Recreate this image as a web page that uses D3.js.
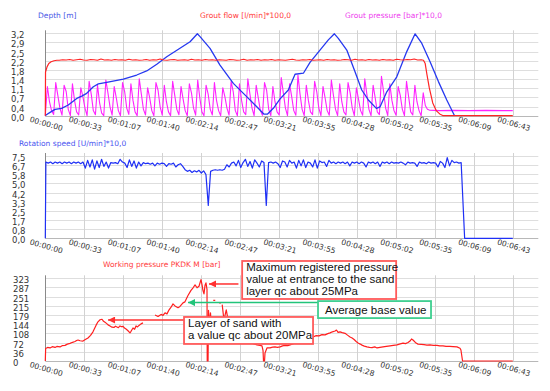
<!DOCTYPE html>
<html>
<head>
<meta charset="utf-8">
<script src="https://cdn.jsdelivr.net/npm/d3@7"></script>
<style>
  body { margin: 0; background: #fff; }
  svg { display: block; }
  .tick-label { font-family: "DejaVu Sans", Verdana, sans-serif; fill: #333; }
  .title { font-family: "DejaVu Sans", Verdana, sans-serif; font-size: 7.5px; }
  .note { font-family: "Liberation Sans", Arial, sans-serif; font-size: 11.5px; fill: #111; }
</style>
</head>
<body>
<svg id="chart" width="550" height="391"></svg>
<script>
// shared time axis, seconds from start of the column
const timeTicks = [0, 33.6, 67.2, 100.8, 134.3, 167.9, 201.5, 235.1, 268.7, 302.3, 335.8, 369.4, 403];
const timeLabels = ['00:00:00', '00:00:33', '00:01:07', '00:01:40', '00:02:14', '00:02:47', '00:03:21',
  '00:03:55', '00:04:28', '00:05:02', '00:05:35', '00:06:09', '00:06:43'];

const depthTicks = [0, 0.36, 0.72, 1.08, 1.44, 1.8, 2.16, 2.52, 2.88, 3.24];
const depthLabels = ['0,0', '0,4', '0,7', '1,1', '1,4', '1,8', '2,2', '2,5', '2,9', '3,2'];
const rotationTicks = [0, 0.833, 1.667, 2.5, 3.333, 4.167, 5, 5.833, 6.667, 7.5];
const rotationLabels = ['0,0', '0,8', '1,7', '2,5', '3,3', '4,2', '5,0', '5,8', '6,7', '7,5'];
const pressureTicks = [0, 35.9, 71.8, 107.7, 143.6, 179.4, 215.3, 251.2, 287.1, 323];
const pressureLabels = ['0', '36', '72', '108', '144', '179', '215', '251', '287', '323'];

// depth [m]
const depthTime = [0, 0.6, 4.1, 8.4, 14.1, 19.8, 27.1, 31.4, 35.7, 41.4, 45.7, 52.9, 67.3, 78.8, 87.4,
  96.1, 104.7, 116.1, 124.8, 131.1, 133.4, 142, 150.6, 162.1, 173.6, 182.3, 188.6, 191.4, 196.6,
  202.4, 209.5, 215.3, 222.5, 228.2, 236.8, 244, 249.2, 252.6, 259.9, 267, 272.8, 278.5, 285.4,
  288.6, 294.4, 303, 311.6, 318.8, 324.5, 331.7, 338.9, 346.1, 352.6];
const depthValue = [0, 0.03, 0.13, 0.25, 0.29, 0.42, 0.68, 0.77, 0.88, 1.14, 1.25, 1.31, 1.44, 1.6, 1.76,
  2.02, 2.32, 2.65, 2.91, 3.22, 3.11, 2.65, 1.99, 1.27, 0.75, 0.35, 0.06, 0.06, 0.29,
  0.66, 1.01, 1.63, 1.67, 2.1, 2.58, 2.98, 3.22, 3.04, 2.58, 1.73, 1.01, 0.62, 0.29,
  0.35, 0.94, 1.53, 2.52, 3.22, 2.85, 2.12, 1.34, 0.62, 0.02];

// grout flow [l/min]*100
const flowHeadTime = [0, 0.2, 1.5, 3, 5, 7.5, 10];
const flowHeadValue = [0, 1.72, 1.92, 2.05, 2.12, 2.16, 2.18];
const flowStart = 12;
const flowStep = 3;
const flowSamples = [
  2.18, 2.20, 2.19, 2.21, 2.18, 2.20, 2.22, 2.19, 2.18, 2.21, 2.20, 2.18, 2.23, 2.19, 2.20,
  2.18, 2.21, 2.19, 2.20, 2.18, 2.22, 2.19, 2.20, 2.18, 2.19, 2.21, 2.18, 2.20, 2.19, 2.23,
  2.19, 2.18, 2.20, 2.21, 2.18, 2.19, 2.20, 2.18, 2.22, 2.19, 2.20, 2.18, 2.21, 2.19, 2.20,
  2.18, 2.20, 2.19, 2.18, 2.21, 2.20, 2.18, 2.19, 2.22, 2.18, 2.20, 2.19, 2.21, 2.18, 2.20,
  2.19, 2.21, 2.18, 2.20, 2.19, 2.18, 2.20, 2.22, 2.19, 2.18, 2.20, 2.19, 2.21, 2.18, 2.19,
  2.20, 2.18, 2.21, 2.19, 2.20, 2.18, 2.19, 2.21, 2.20, 2.18, 2.22, 2.19, 2.20, 2.18, 2.21,
  2.19, 2.20, 2.18, 2.21, 2.19, 2.20, 2.18, 2.22, 2.20, 2.19, 2.21, 2.20, 2.23, 2.19, 2.20];
const flowTailTime = [326, 327.5, 329, 331, 334, 337, 340, 343, 403];
const flowTailValue = [2.18, 2.05, 1.62, 1.1, 0.5, 0.2, 0.07, 0, 0];

// grout pressure [bar]*10, logged every 1.8 s
const groutStep = 1.8;
const groutSamples = [
  0.00, 1.15, 0.55, 0.20, 0.05, 1.30, 0.80, 0.30, 0.02, 1.20, 0.95, 0.25, 0.00, 1.25, 0.60, 0.15,
  0.03, 1.10, 0.75, 0.30, 0.00, 1.35, 0.85, 0.20, 0.04, 1.20, 0.50, 0.10, 0.00, 1.40, 0.90, 0.35,
  0.02, 1.15, 0.70, 0.20, 0.00, 1.30, 0.95, 0.30, 0.05, 1.25, 0.60, 0.15, 0.00, 1.45, 0.85, 0.25,
  0.03, 1.10, 0.70, 0.20, 0.00, 1.30, 1.00, 0.35, 0.02, 1.20, 0.55, 0.15, 0.00, 1.35, 0.80, 0.25,
  0.04, 1.15, 0.65, 0.20, 0.00, 1.25, 0.90, 0.30, 0.02, 1.40, 0.70, 0.15, 0.00, 1.20, 0.85, 0.25,
  0.03, 1.30, 0.60, 0.20, 0.00, 1.10, 0.75, 0.30, 0.02, 1.35, 0.95, 0.20, 0.00, 1.25, 0.60, 0.15,
  0.04, 1.45, 0.85, 0.30, 0.00, 1.20, 0.70, 0.20, 0.02, 1.30, 1.00, 0.25, 0.00, 1.15, 0.55, 0.15,
  0.03, 1.50, 0.90, 0.30, 0.00, 1.25, 0.75, 0.20, 0.02, 1.60, 0.85, 0.25, 0.00, 1.20, 0.60, 0.15,
  0.04, 1.35, 0.95, 0.30, 0.00, 1.15, 0.70, 0.20, 0.02, 1.40, 0.80, 0.25, 0.00, 1.25, 0.55, 0.15,
  0.03, 1.30, 0.90, 0.30, 0.00, 1.10, 0.65, 0.20, 0.02, 1.45, 0.85, 0.25, 0.00, 1.20, 0.70, 0.15,
  0.04, 1.55, 0.95, 0.30, 0.00, 1.25, 0.60, 0.20, 0.02, 1.15, 0.80, 0.25, 0.00, 1.35, 0.75, 0.15,
  0.03, 1.20, 0.55, 0.20, 0.00, 0.90, 0.40, 0.25];
const groutTailTime = [331, 340, 352, 365, 380, 395, 403];
const groutTailValue = [0.22, 0.2, 0.21, 0.2, 0.21, 0.2, 0.2];

// rotation speed [U/min]*10, logged every 2 s from 0.5 s
const rotationStart = 0.5;
const rotationStep = 2;
const rotationSamples = [
  6.95, 6.85, 6.95, 6.80, 6.95, 6.85, 6.95, 6.80, 6.95, 6.85, 6.95, 6.80, 6.95, 6.85, 6.95, 6.80, 6.95,
  6.40, 7.10, 6.50, 7.15, 6.30, 7.05, 6.45, 7.20, 6.55, 6.95, 6.40,
  6.90, 6.85, 6.90, 6.80, 7.20, 6.95, 6.85,
  6.45, 7.15, 6.55, 7.05, 6.40, 6.95, 6.60,
  6.90, 6.80, 6.85, 6.75, 6.85, 6.60, 6.85, 6.75, 6.85, 6.80, 6.55, 6.80, 6.75, 6.85, 6.50, 6.70, 6.80, 6.55,
  6.25, 6.10, 6.20, 6.00, 6.15, 6.05, 6.20, 5.95, 6.15,
  5.80, 3.00,
  6.10, 6.20, 6.25, 6.20, 6.25, 6.20, 6.30,
  6.70, 6.50, 6.85, 6.95, 6.60, 7.10, 6.45, 6.90, 7.20, 6.55, 7.00, 6.40, 7.15, 6.85, 6.50, 7.05, 6.90,
  3.00,
  6.90, 6.95, 6.85, 6.95, 6.80, 6.45, 7.05, 6.95, 6.50, 7.10, 6.85, 6.95, 6.40, 7.10, 6.60, 7.15, 6.45, 6.95,
  6.85, 6.50, 7.15, 6.40, 7.05, 6.90, 6.95, 6.55, 7.10, 6.85, 6.95, 6.80, 6.95, 6.85, 6.95, 6.80, 6.95, 6.60,
  6.95, 6.85, 6.95, 6.80, 6.95, 6.85, 6.50, 6.95, 6.85, 6.95, 6.80, 6.95, 6.55, 6.95, 6.85, 6.95, 6.80, 6.95, 6.85,
  6.90, 6.85, 6.95, 6.85, 6.70, 6.95, 6.85, 6.90, 6.85, 6.55, 6.95, 6.85, 6.90, 6.80, 6.95, 6.85, 6.90, 6.85,
  6.50, 7.00, 6.85, 6.45, 7.35, 6.60, 7.10, 6.90, 6.95, 6.85,
  6.90];
const rotationTailTime = [361.5, 403];
const rotationTailValue = [0, 0];

// working pressure PKDK M [bar]; null marks a gap in the record
const pressureTime = [
  0, 0.3, 2, 4.1, 6, 8.4, 10, 12.7, 14.5, 17, 19, 21.3, 23.5, 25.6, 27, 28.2, 30, 32.5, 34.5, 36.8,
  39, 41.1, 43.7, 45.4, 47.2, 48.9, 50.2, 51.5, 53, 54.1, 55.8, 57.5, 59.2, 60.5, 61.8, 63, 64.4, 65.7,
  67, 68.3, 69.6, 71.3, 73, 73.9, 75.6, 77, 78.2, 79.5, 80.8, 82.5, 84.2,
  88, 94.6, 97.2, 99.8, 101.5, 103.2, 104.9, 106.7, 108.4, 110.1, 111.8, 114.4, 116.1, 118.7, 120.4,
  123, 125.6, 127.4, 129.1, 130.8, 132.5, 134.2, 135.1, 135.9, 136.8, 137.7, 138.5, 139.4, 139.6,
  140.3, 140.7, 141.6, 142.4, 143.3, 144.2, 144.5, 144.8, 146.5, 147, 149.8, 151.5, 152,
  152.5, 154, 156, 158, 162, 170, 178, 182.5, 185.1, 186.8, 187.7, 188.1, 189, 189.4, 191.1,
  193.7, 196, 198, 200, 202.4, 204.5, 206.7, 209, 211, 214, 217, 219.5, 222.2, 224.5, 226.5, 228.5,
  230.8, 233.5, 236, 238.5, 241.2, 243.5, 245.5, 247.5, 249.8, 251, 252.4, 254.1, 256, 258.4, 260.5,
  262.7, 264.5, 266.2, 268, 269.6, 271.5, 273, 275, 277.3, 279.5, 281.6, 284, 286, 288.5, 291.1, 294,
  297.2, 300, 303.2, 306, 308.4, 310.5, 312.7, 314.4, 315.7, 317, 319.6, 321.3, 324, 326.5, 329,
  331.6, 334.5, 337.7, 340, 342.8, 345.5, 348.8, 351.5, 354.9, 357.5, 358.3, 359.7, 403];
const pressureValue = [
  0, 49, 53, 51, 56, 53, 57, 55, 60, 61, 66, 69, 73, 76, 80, 82, 79, 78, 84, 90,
  100, 114, 139, 153, 161, 163, 155, 151, 146, 141, 137, 132, 131, 136, 133, 130, 137, 134,
  135, 129, 125, 118, 110, 116, 129, 124, 137, 133, 139, 145, 149,
  null, 180, 174, 182, 178, 188, 184, 200, 210, 223, 215, 208, 213, 227, 231,
  256, 276, 286, 297, 286, 292, 318, 298, 276, 262, 296, 305, 280, 0,
  0, 198, 139, 188, 129, 168, null, 237, 237, null, 227, 227, null,
  220, 160, 200, 150, 120, 95, 70, 63, 61, 59, 41, 0, 0, 31, 51,
  51, 54, 55, 53, 55, 59, 61, 60, 63, 68, 75, 78, 82, 86, 90, 93,
  94, 99, 98, 103, 102, 107, 110, 114, 117, 121, 112, 114, 111, 108, 101,
  94, 90, 84, 76, 70, 66, 62, 58, 55, 53, 52, 55, 51, 53, 55, 57,
  59, 61, 63, 67, 70, 68, 72, 78, 86, 82, 70, 66, 65, 64, 62,
  63, 61, 61, 59, 59, 57, 57, 56, 55, 50, 43, 0, 0];

// callout texts
const noteMaxText = ['Maximum registered pressure', 'value at entrance to the sand', 'layer qc about 25MPa'];
const noteBaseText = ['Average base value'];
const noteSandText = ['Layer of sand with', 'a value qc about 20MPa'];

// ---------------------------------------------------------------- layout
const svg = d3.select('#chart');
const x = d3.scaleLinear().domain([0, 425]).range([45.3, 538.3]);

const yDepth = d3.scaleLinear().domain([0, 3.24]).range([115.7, 33.3]);
const yRotation = d3.scaleLinear().domain([0, 7.5]).range([238.3, 156]);
const yPressure = d3.scaleLinear().domain([0, 323]).range([361, 278.3]);

const crisp = v => Math.round(v) + 0.5;

/**
 * Grid, axis line and tick labels of one panel.
 */
function drawPanel(y, ticks, labels, labelX) {
  const g = svg.append('g');
  const [x0, x1] = x.range();
  const [bottom, top] = y.range();

  g.append('g').selectAll('line').data(ticks).join('line')
      .attr('x1', x0).attr('x2', x1)
      .attr('y1', d => crisp(y(d))).attr('y2', d => crisp(y(d)))
      .attr('stroke', (d, i) => i === 0 ? '#b8b8b8' : '#dedede');

  g.append('g').selectAll('line').data(timeTicks.slice(1)).join('line')
      .attr('x1', d => crisp(x(d))).attr('x2', d => crisp(x(d)))
      .attr('y1', top - 3).attr('y2', bottom)
      .attr('stroke', '#d2d2d2');

  g.append('line')
      .attr('x1', crisp(x0)).attr('x2', crisp(x0))
      .attr('y1', top - 3).attr('y2', bottom)
      .attr('stroke', '#8a8a8a');

  g.append('g').selectAll('text').data(ticks).join('text')
      .attr('class', 'tick-label')
      .attr('x', labelX)
      .attr('y', d => y(d) + 2)
      .attr('dy', '0.35em')
      .style('font-size', '8.5px')
      .text((d, i) => labels[i]);

  g.append('g').selectAll('text').data(timeTicks).join('text')
      .attr('class', 'tick-label')
      .attr('transform', d => `translate(${x(d) + 1},${bottom + 8}) rotate(16)`)
      .attr('text-anchor', 'middle')
      .attr('dy', '0.35em')
      .style('font-size', '7.6px')
      .text((d, i) => timeLabels[i]);
}

function series(times, values) {
  return times.map((t, i) => [t, values[i]]);
}

function sampled(start, step, values) {
  return values.map((v, i) => [start + i * step, v]);
}

function drawLine(y, data, color, width) {
  const line = d3.line()
      .defined(d => d[1] !== null)
      .x(d => x(d[0]))
      .y(d => y(d[1]));
  svg.append('path')
      .datum(data)
      .attr('d', line)
      .attr('fill', 'none')
      .attr('stroke', color)
      .attr('stroke-width', width)
      .attr('stroke-linejoin', 'round');
}

function title(text, px, py, color) {
  svg.append('text').attr('class', 'title').attr('x', px).attr('y', py)
      .attr('fill', color).text(text);
}

// ---------------------------------------------------------------- top panel
drawPanel(yDepth, depthTicks, depthLabels, 11);
title('Depth [m]', 38, 18, '#4756e6');
title('Grout flow  [l/min]*100,0', 200, 18, '#ff3b3b');
title('Grout pressure [bar]*10,0', 345, 18, '#ee3cee');

const groutData = sampled(0, groutStep, groutSamples).concat(series(groutTailTime, groutTailValue));
drawLine(yDepth, groutData, '#ff22ff', 1.1);
drawLine(yDepth, series(depthTime, depthValue), '#2638f0', 1.3);
const flowData = series(flowHeadTime, flowHeadValue)
    .concat(sampled(flowStart, flowStep, flowSamples))
    .concat(series(flowTailTime, flowTailValue));
drawLine(yDepth, flowData, '#ff2424', 1.2);

// ---------------------------------------------------------------- rotation panel
drawPanel(yRotation, rotationTicks, rotationLabels, 12);
title('Rotation speed  [U/min]*10,0', 19, 146, '#4a55f0');
const rotationData = [[0, 0]]
    .concat(sampled(rotationStart, rotationStep, rotationSamples))
    .concat(series(rotationTailTime, rotationTailValue));
drawLine(yRotation, rotationData, '#1f30f5', 1.2);

// ---------------------------------------------------------------- pressure panel
drawPanel(yPressure, pressureTicks, pressureLabels, 13);
title('Working pressure PKDK M [bar]', 103, 267, '#ff3b3b');
drawLine(yPressure, series(pressureTime, pressureValue), '#ff1f1f', 1.2);

// ---------------------------------------------------------------- callouts
const defs = svg.append('defs');
function marker(id, color) {
  defs.append('marker')
      .attr('id', id)
      .attr('viewBox', '0 0 10 10')
      .attr('refX', 10).attr('refY', 5)
      .attr('markerUnits', 'userSpaceOnUse')
      .attr('markerWidth', 8).attr('markerHeight', 7)
      .attr('orient', 'auto')
      .append('path').attr('d', 'M0,0L10,5L0,10z').attr('fill', color);
}
marker('arrow-red', '#ff3030');
marker('arrow-green', '#22c47a');

// box anchored at (time, pressure) of its top-left corner; arrow from box edge to a data point
const callouts = [
  {text: noteSandText, t: 119.6, v: 172, w: 129, h: 27, color: '#ff5a5a', arrowColor: 'arrow-red',
    lineColor: '#ff3030', arrowV: 160, tipT: 54.1, fromT: 119.6, lead: 10, gap: 12.5},
  {text: noteMaxText, t: 169.7, v: 390.6, w: 154, h: 38, color: '#ff5a5a', arrowColor: 'arrow-red',
    lineColor: '#ff3030', arrowV: 300.8, tipT: 141.1, fromT: 166.5, lead: 10, gap: 12},
  {text: noteBaseText, t: 235.1, v: 234, w: 113, h: 17, color: '#3fcf90', arrowColor: 'arrow-green',
    lineColor: '#22c47a', arrowV: 228, tipT: 123, fromT: 235.1, lead: 13, gap: 12, indent: 7},
];

callouts.forEach(c => {
  const left = x(c.t);
  const top = yPressure(c.v);
  svg.append('line')
      .attr('x1', x(c.fromT)).attr('x2', x(c.tipT))
      .attr('y1', yPressure(c.arrowV)).attr('y2', yPressure(c.arrowV))
      .attr('stroke', c.lineColor).attr('stroke-width', 1.5)
      .attr('marker-end', `url(#${c.arrowColor})`);
  svg.append('rect')
      .attr('x', left).attr('y', top)
      .attr('width', c.w).attr('height', c.h)
      .attr('fill', '#fff')
      .attr('stroke', c.color).attr('stroke-width', 1.8);
  svg.append('g').selectAll('text').data(c.text).join('text')
      .attr('class', 'note')
      .attr('x', left + (c.indent || 4))
      .attr('y', (d, i) => top + c.lead + i * c.gap)
      .text(d => d);
});
</script>
</body>
</html>
